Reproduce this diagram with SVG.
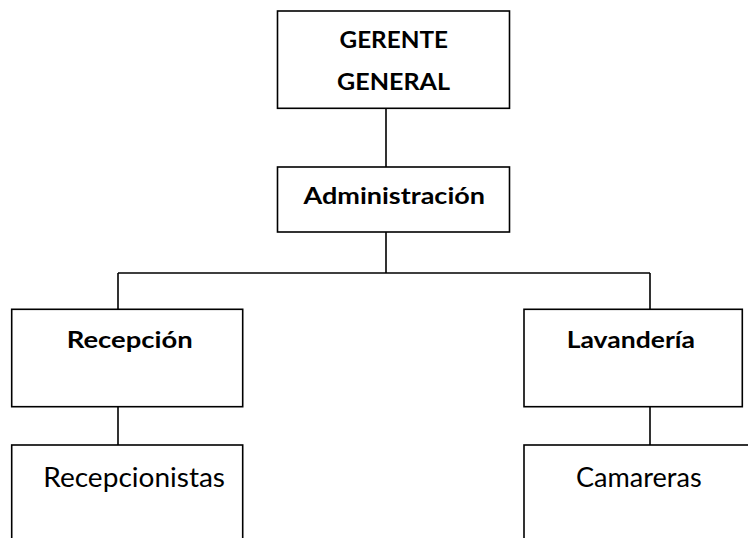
<svg xmlns="http://www.w3.org/2000/svg" width="748" height="538" viewBox="0 0 748 538">
<style>
.box{fill:#fff;stroke:#000;stroke-width:1.6}
.ln{fill:none;stroke:#000;stroke-width:1.6}
.b{font-family:Lato,"Liberation Sans",sans-serif;font-weight:bold;font-size:23px;fill:#000}
.r{font-family:Lato,"Liberation Sans",sans-serif;font-size:27px;fill:#000}
</style>
<rect width="748" height="538" fill="#fff"/>
<g id="connectors">
<path class="ln" d="M386 108V167M386 232V273M118 273H650M118 273V309M650 273V309M118 407V445M650 407V445"/>
</g>
<g id="gerente">
<rect class="box" x="277.5" y="11" width="232" height="97.3"/>
<text class="b" x="339.5" y="48.3" textLength="108.5" lengthAdjust="spacingAndGlyphs">GERENTE</text>
<text class="b" x="337" y="90" textLength="113" lengthAdjust="spacingAndGlyphs">GENERAL</text>
</g>
<g id="administracion">
<rect class="box" x="277.5" y="167" width="232" height="65"/>
<text class="b" x="303.5" y="204" textLength="181.5" lengthAdjust="spacingAndGlyphs">Administración</text>
</g>
<g id="recepcion">
<rect class="box" x="11.7" y="309.3" width="231" height="97.4"/>
<text class="b" x="66.7" y="348.3" textLength="126" lengthAdjust="spacingAndGlyphs">Recepción</text>
</g>
<g id="lavanderia">
<rect class="box" x="524" y="309.3" width="218.3" height="97.4"/>
<text class="b" x="566.7" y="348.3" textLength="128.3" lengthAdjust="spacingAndGlyphs">Lavandería</text>
</g>
<g id="recepcionistas">
<rect class="box" x="11.7" y="445" width="231" height="120"/>
<text class="r" x="43.3" y="486.7" textLength="181.7" lengthAdjust="spacingAndGlyphs">Recepcionistas</text>
</g>
<g id="camareras">
<rect class="box" x="524" y="445" width="250" height="120"/>
<text class="r" x="576" y="486.7" textLength="125.7" lengthAdjust="spacingAndGlyphs">Camareras</text>
</g>
</svg>
